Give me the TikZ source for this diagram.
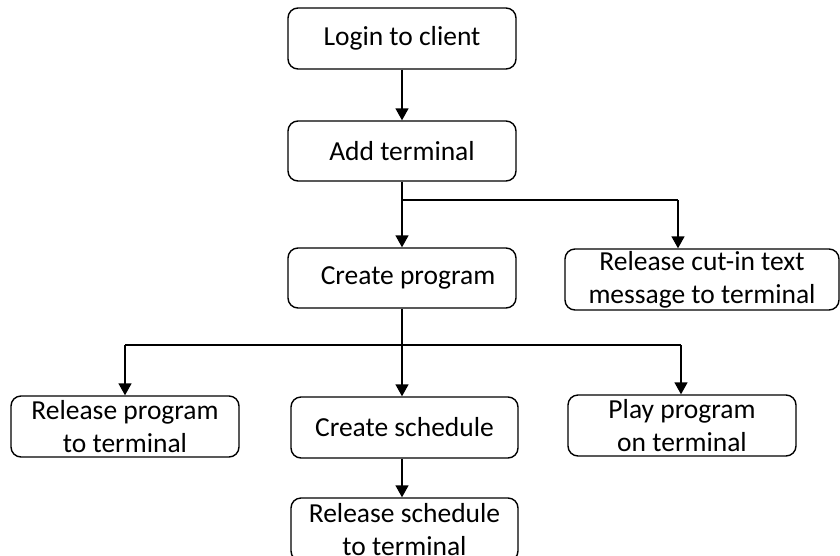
\documentclass[tikz,border=0pt]{standalone}
\usepackage{fontspec}
\setmainfont{Carlito}
\usetikzlibrary{arrows.meta}
\begin{document}
\begin{tikzpicture}[x=1pt,y=-1pt,
  flowbox/.style={draw=black, line width=1.4pt, rounded corners=10pt, inner sep=0pt,
    align=center, font=\fontsize{27.5}{33}\selectfont},
  conn/.style={draw=black, line width=1.5pt},
  arr/.style={conn, -{Triangle[length=12pt,width=13pt]}}]
\useasboundingbox (0,0) rectangle (840,555);
\clip (0,0) rectangle (840,555);
\fill[white] (0,0) rectangle (840,555);
\node[flowbox, minimum width=228pt, minimum height=61pt] (login) at (402,38.5) {Login to client};
\node[flowbox, minimum width=228pt, minimum height=60pt] (add) at (402,151) {Add terminal};
\node[flowbox, minimum width=228pt, minimum height=60pt] (create) at (402,278) {\hspace*{12pt}Create program};
\node[flowbox, minimum width=274pt, minimum height=61pt] (cutin) at (702,279.5) {Release cut-in text\\message to terminal};
\node[flowbox, minimum width=228pt, minimum height=61pt] (relprog) at (125,426.5) {Release program\\to terminal};
\node[flowbox, minimum width=227pt, minimum height=61pt] (sched) at (404.5,427.5) {Create schedule};
\node[flowbox, minimum width=228pt, minimum height=61pt] (play) at (682,425.5) {Play program\\on terminal};
\node[flowbox, minimum width=227pt, minimum height=63pt] (relsched) at (404.5,529.5) {Release schedule\\to terminal};
\coordinate (b1) at (402,200);
\coordinate (b1r) at (678,200);
\coordinate (b2) at (402,345);
\coordinate (b2l) at (125,345);
\coordinate (b2r) at (681,345);
\draw[arr] (login.south) -- (add.north);
\draw[arr] (add.south) -- (create.north);
\draw[conn] (b1) -- (b1r);
\draw[arr] (b1r) -- (b1r |- cutin.north);
\draw[arr] (create.south) -- (create.south |- sched.north);
\draw[conn] (b2l) -- (b2r);
\draw[arr] (b2l) -- (relprog.north);
\draw[arr] (b2r) -- (b2r |- play.north);
\draw[arr] (sched.south -| create.south) -- (relsched.north -| create.south);
\end{tikzpicture}
\end{document}
